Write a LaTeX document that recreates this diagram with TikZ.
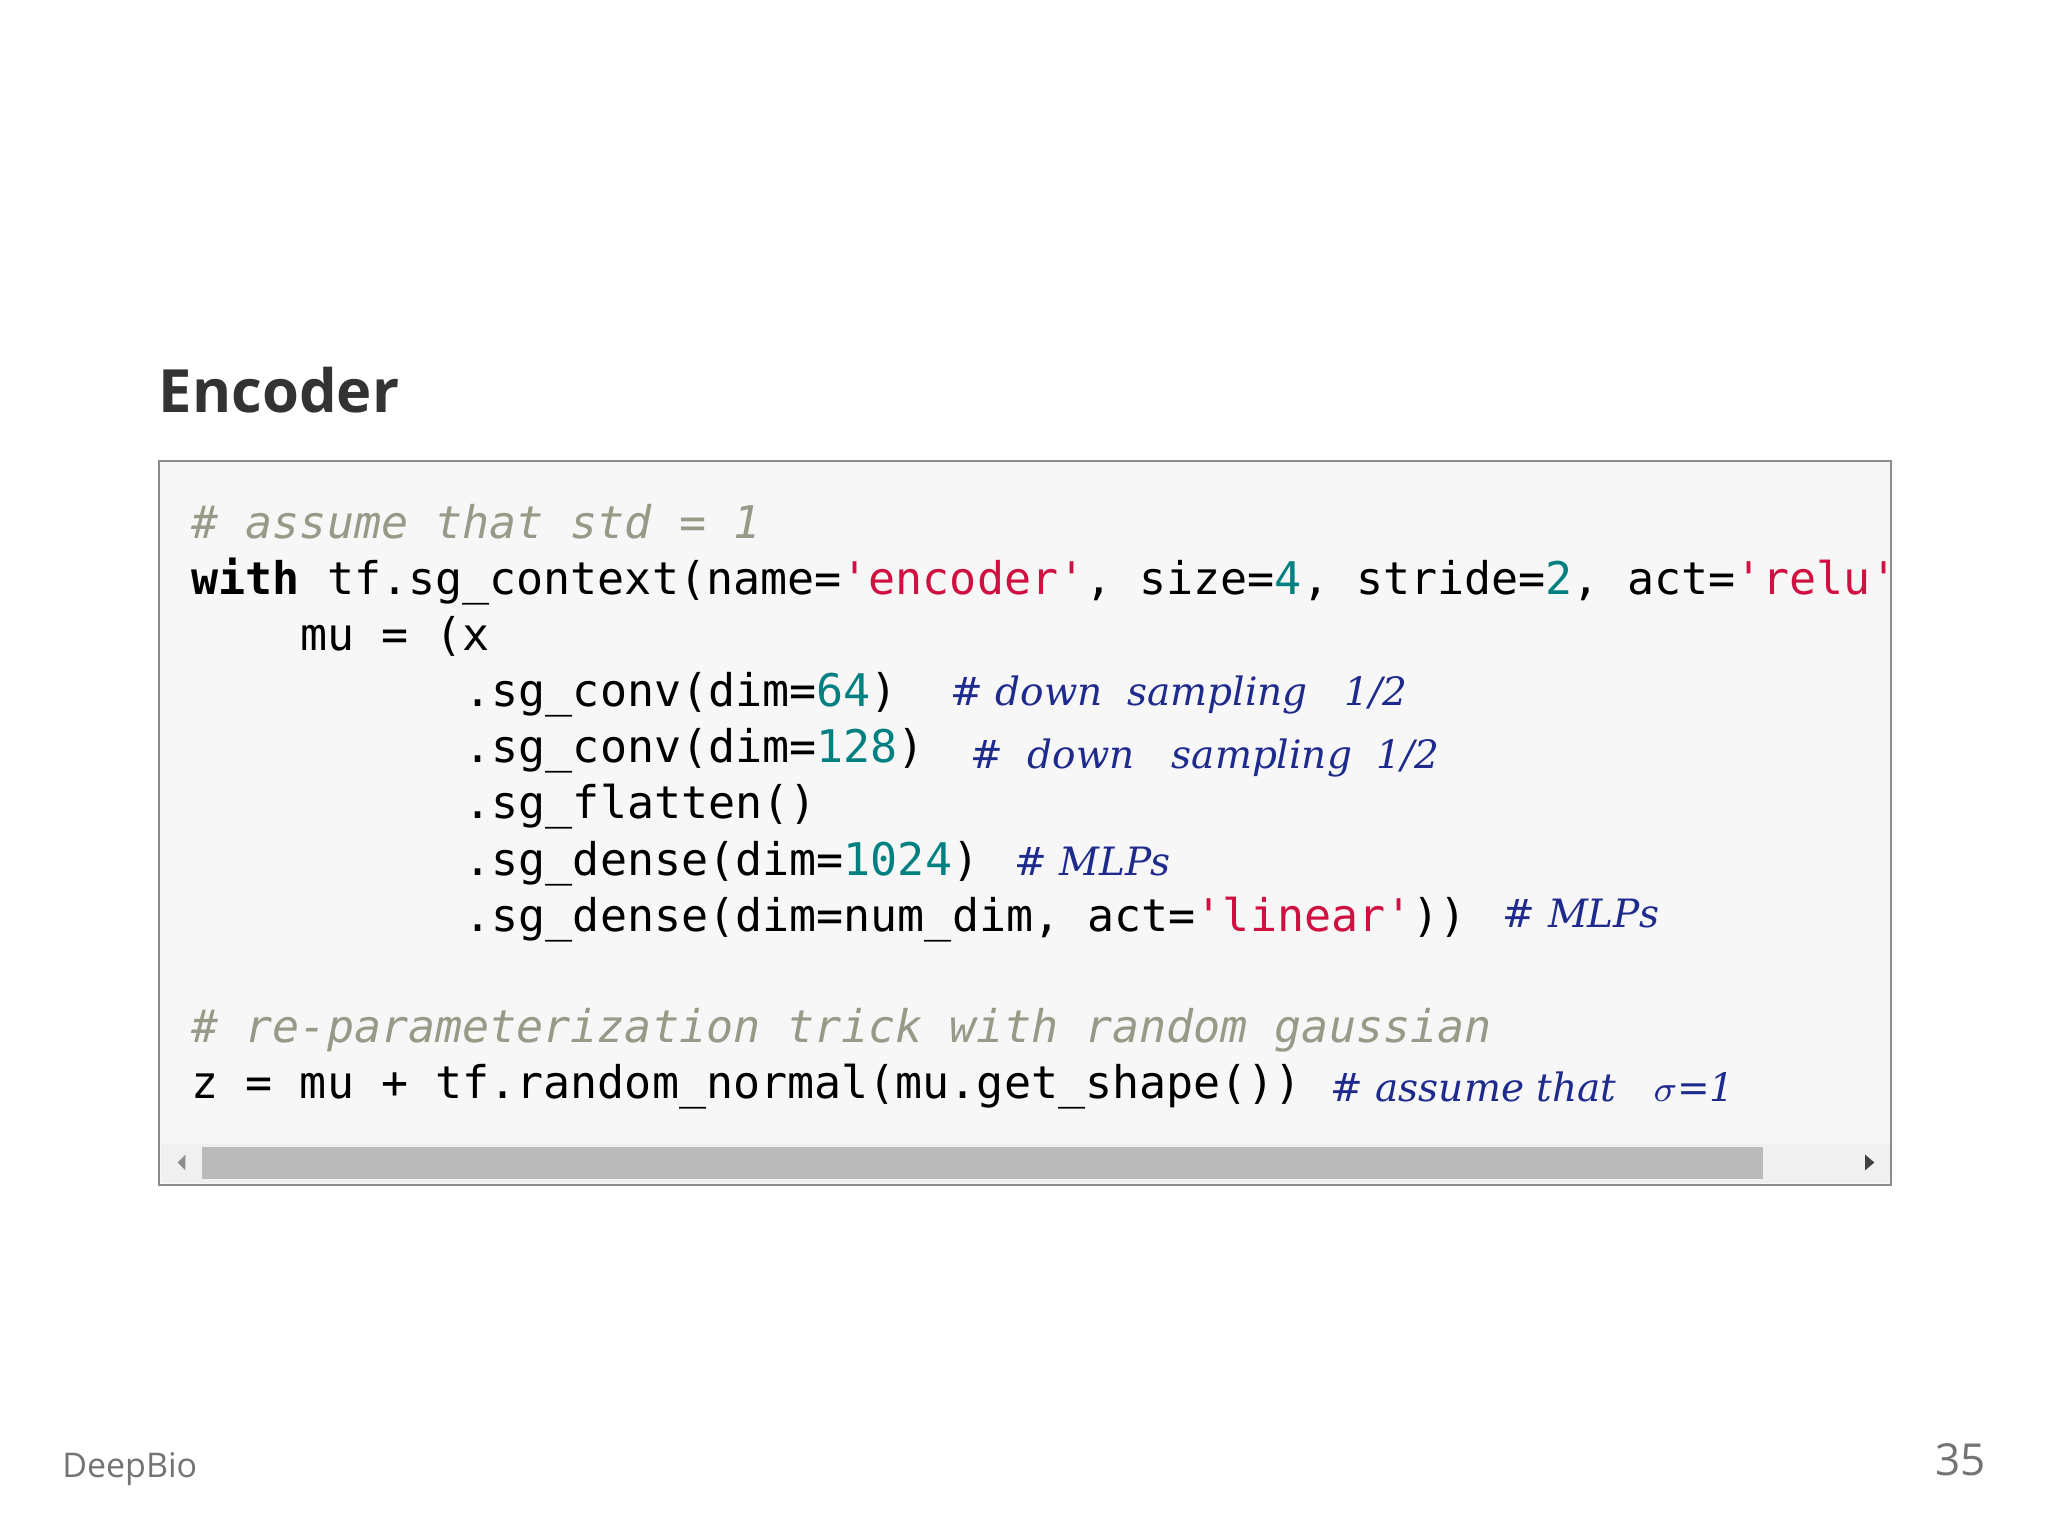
\documentclass[tikz,border=0pt]{standalone}
\usepackage{fontspec}
\setmainfont{Liberation Serif}
\setsansfont{Open Sans}
\setmonofont{DejaVu Sans Mono}
\newfontfamily\hand{DejaVu Serif}
\definecolor{cmt}{HTML}{999988}
\definecolor{str}{HTML}{D01040}
\definecolor{num}{HTML}{008080}
\definecolor{ink}{HTML}{1E2A8C}
\newcommand{\cs}[1]{\textcolor{str}{#1}}
\newcommand{\cn}[1]{\textcolor{num}{#1}}
\newcommand{\cc}[1]{\textcolor{cmt}{\itshape #1}}
\begin{document}
\begin{tikzpicture}[x=0.1mm,y=-0.1mm,
  code/.style={anchor=base west,inner sep=0,font=\fontsize{9.8pt}{11pt}\ttfamily},
  hw/.style={anchor=base west,inner sep=0,text=ink,font=\fontsize{8.5pt}{10pt}\hand\itshape}]
\useasboundingbox[fill=white] (0,0) rectangle (1568,1176);
\node[anchor=base west,inner sep=0,font=\fontsize{13pt}{16pt}\sffamily\bfseries,text=black!80] (title) at (121,316) {Encoder};
\draw[fill=black!3,draw=black!45] (122,353) rectangle (1448,907);
\begin{scope}
\clip (122,353) rectangle (1448,907);
\node[code] (l1) at (146,412) {\cc{\# assume that std = 1}};
\node[code] (l2) at (146,455) {\textbf{with} tf.sg\_context(name=\cs{'encoder'}, size=\cn{4}, stride=\cn{2}, act=\cs{'relu'})};
\node[code] (l3) at (229,498) {mu = (x};
\node[code] (l4) at (355,541) {.sg\_conv(dim=\cn{64})};
\node[code] (l5) at (355,584) {.sg\_conv(dim=\cn{128})};
\node[code] (l6) at (355,627) {.sg\_flatten()};
\node[code] (l7) at (355,670) {.sg\_dense(dim=\cn{1024})};
\node[code] (l8) at (355,713) {.sg\_dense(dim=num\_dim, act=\cs{'linear'}))};
\node[code] (l9) at (146,798) {\cc{\# re-parameterization trick with random gaussian}};
\node[code] (l10) at (146,841) {z = mu + tf.random\_normal(mu.get\_shape())};
\end{scope}
\node[hw] (h1) at (727,540) {\# down \ sampling \ \ 1/2};
\node[hw] (h2) at (742,588) {\# \ down \ \ sampling \ 1/2};
\node[hw] (h3) at (776,670) {\# MLPs};
\node[hw] (h4) at (1150,710) {\# MLPs};
\node[hw] (h5) at (1018,843) {\# assume that \ \ $\sigma$=1};
\fill[black!6] (123,876) rectangle (1447,906);
\fill[black!27] (155,878) rectangle (1350,903);
\fill[black!45] (142,884) -- (142,896) -- (136,890) -- cycle;
\fill[black!75] (1428,884) -- (1428,896) -- (1435,890) -- cycle;
\node[anchor=base west,inner sep=0,font=\fontsize{7.4pt}{9pt}\sffamily,text=black!55] (foot) at (47,1131) {DeepBio};
\node[anchor=base east,inner sep=0,font=\fontsize{9.6pt}{11pt}\sffamily,text=black!55] (pg) at (1521,1130) {35};
\end{tikzpicture}
\end{document}
